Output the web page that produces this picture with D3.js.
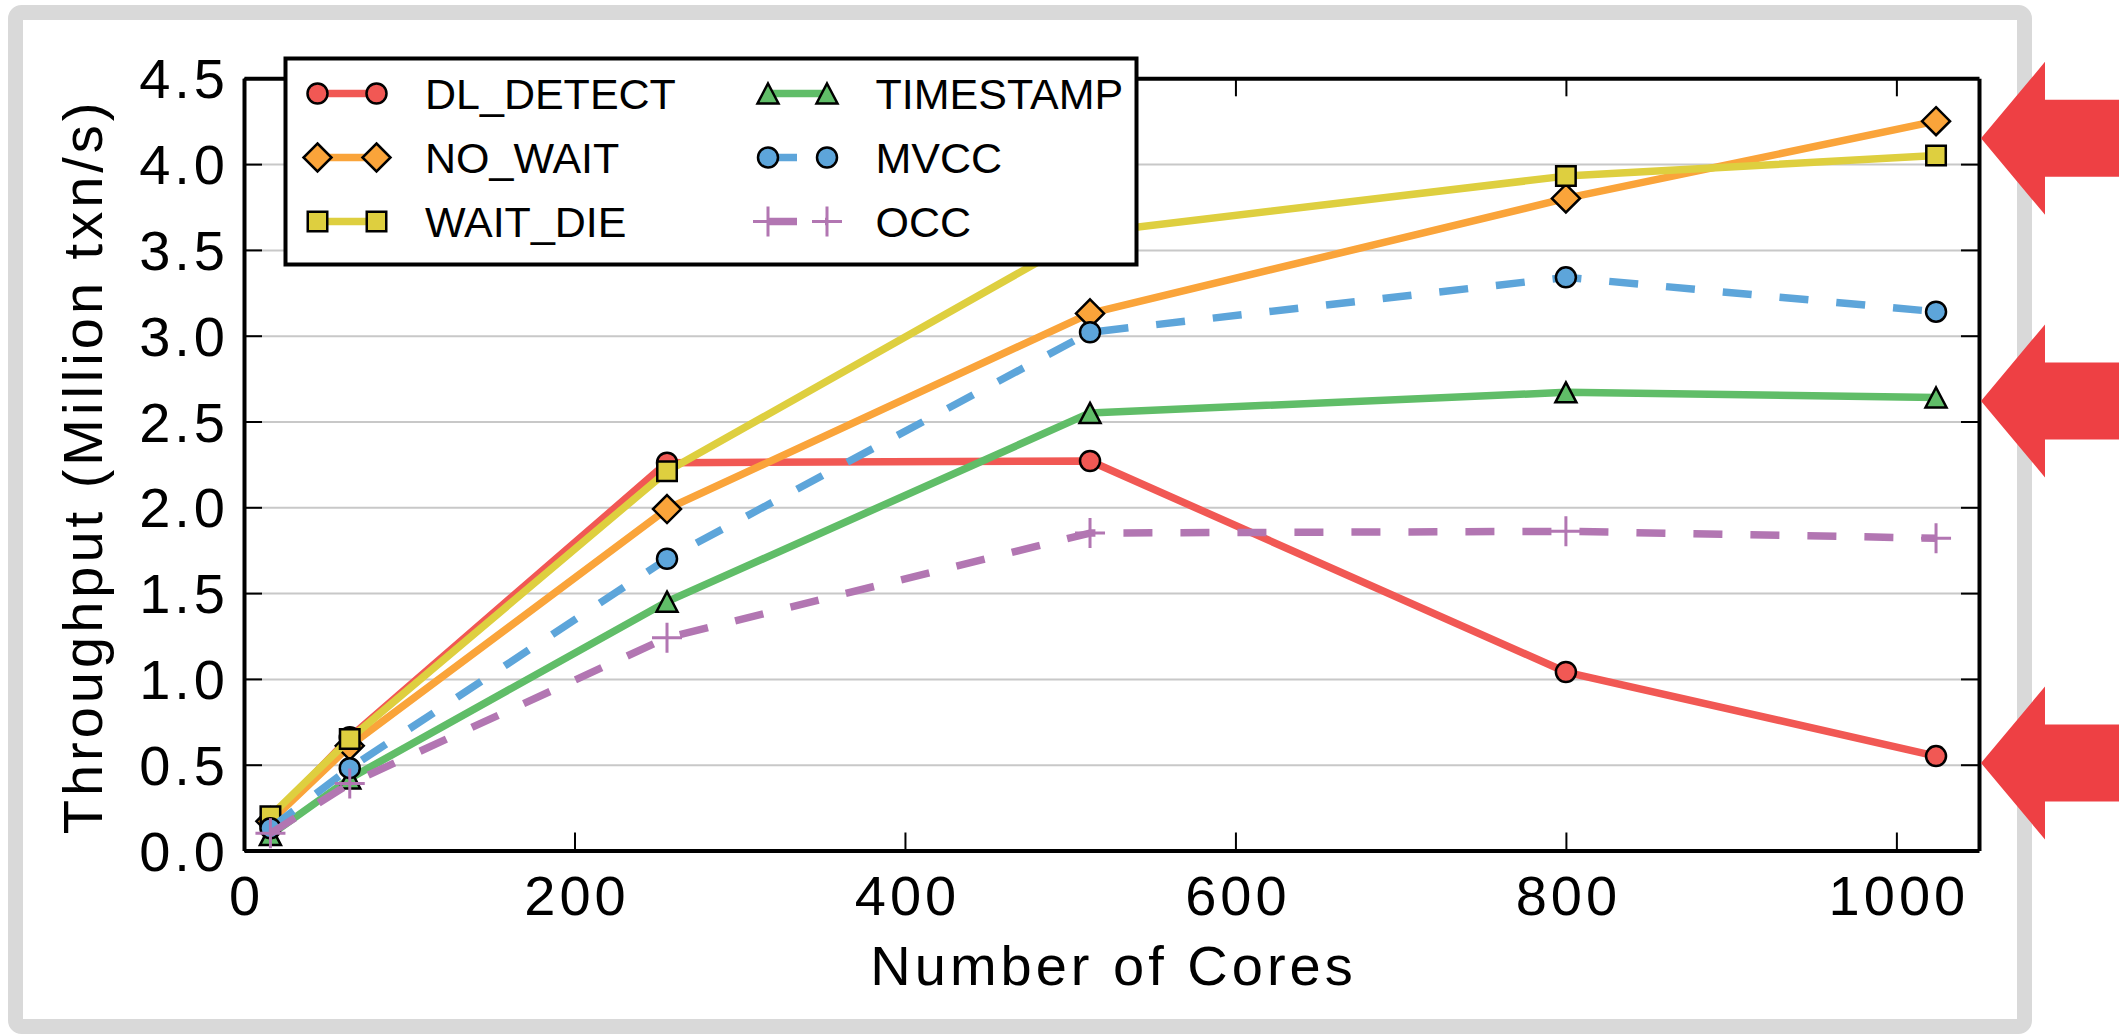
<!DOCTYPE html>
<html>
<head>
<meta charset="utf-8">
<script src="https://cdn.jsdelivr.net/npm/d3@7"></script>
<style>
    html, body { margin: 0; padding: 0; background: #fff; }
    svg { display: block; }
</style>
</head>
<body>
<div id="chart"></div>
<script>
'use strict'

// x values (number of cores)
const cores = [16, 64, 256, 512, 800, 1024]

// throughput per scheme, million txn/s
const dlDetect = [0.18, 0.66, 2.26, 2.27, 1.04, 0.55]
const noWait = [0.17, 0.61, 1.99, 3.13, 3.80, 4.25]
const waitDie = [0.20, 0.65, 2.21, 3.60, 3.93, 4.05]
const timestamp = [0.09, 0.42, 1.45, 2.55, 2.67, 2.64]
const mvcc = [0.13, 0.48, 1.70, 3.02, 3.34, 3.14]
const occ = [0.10, 0.39, 1.24, 1.85, 1.86, 1.82]

const seriesNames = ['DL_DETECT', 'NO_WAIT', 'WAIT_DIE', 'TIMESTAMP', 'MVCC', 'OCC']
const xTicks = [0, 200, 400, 600, 800, 1000]
const yTicks = [0, 0.5, 1, 1.5, 2, 2.5, 3, 3.5, 4, 4.5]

// levels the red arrows point at
const arrowLevels = [4.15, 2.62, 0.51]

let chart = ((selector = '#chart') => {

    ////////////////////////////////////
    //////////// svg setup /////////////
    ////////////////////////////////////

    const svgWidth = 2119
    const svgHeight = 1034

    // plot area in pixels
    const plot = { left: 244, right: 1979, top: 78.3, bottom: 850.5 }

    const body = d3.select(selector)
    body.html("")

    const svg = body.append('svg')
        .attr('width', svgWidth)
        .attr('height', svgHeight)
        .attr('viewBox', `0 0 ${svgWidth} ${svgHeight}`)

    const font = '"Liberation Sans", Arial, Helvetica, sans-serif'

    // grey rounded frame around the figure
    svg.append('rect')
        .attr('x', 15.5).attr('y', 12.5)
        .attr('width', 2009).attr('height', 1014)
        .attr('rx', 6)
        .attr('fill', '#fff')
        .attr('stroke', '#d9d9d9')
        .attr('stroke-width', 15)

    ////////////////////////////////////
    ////////////// scales //////////////
    ////////////////////////////////////

    const x = d3.scaleLinear().domain([0, 1050]).range([plot.left, plot.right])
    const y = d3.scaleLinear().domain([0, 4.5]).range([plot.bottom, plot.top])

    const styles = {
        DL_DETECT: { color: '#F15854', marker: 'circle', dashed: false },
        NO_WAIT: { color: '#FAA43A', marker: 'diamond', dashed: false },
        WAIT_DIE: { color: '#DECF3F', marker: 'square', dashed: false },
        TIMESTAMP: { color: '#60BD68', marker: 'triangle', dashed: false },
        MVCC: { color: '#5DA5DA', marker: 'circle', dashed: true },
        OCC: { color: '#B276B2', marker: 'plus', dashed: true }
    }

    const seriesValues = [dlDetect, noWait, waitDie, timestamp, mvcc, occ]
    const series = seriesNames.map((name, i) => ({
        name: name,
        values: cores.map((c, j) => ({ x: c, y: seriesValues[i][j] })),
        ...styles[name]
    }))

    const markerPath = {
        circle: d3.symbol(d3.symbolCircle, Math.PI * 10 * 10)(),
        square: d3.symbol(d3.symbolSquare, 19.5 * 19.5)(),
        diamond: 'M0,-14L14,0L0,14L-14,0Z',
        triangle: 'M0,-10L10.5,10L-10.5,10Z',
        plus: 'M-15,0H15M0,-15V15'
    }

    const lineWidth = 7.5
    const dash = '29,28'

    ////////////////////////////////////
    ////////////// grid ////////////////
    ////////////////////////////////////

    svg.append('g')
        .attr('transform', `translate(${plot.left},0)`)
        .call(d3.axisLeft(y).tickValues(yTicks).tickSize(-(plot.right - plot.left)).tickFormat(''))
        .call(g => g.select('.domain').remove())
        .call(g => g.selectAll('line').attr('stroke', '#c8c8c8').attr('stroke-width', 2))

    ////////////////////////////////////
    ////////////// lines ///////////////
    ////////////////////////////////////

    const line = d3.line().x(d => x(d.x)).y(d => y(d.y))

    const drawMarker = (sel, s) => sel
        .attr('d', markerPath[s.marker])
        .attr('fill', s.marker === 'plus' ? 'none' : s.color)
        .attr('stroke', s.marker === 'plus' ? s.color : '#000')
        .attr('stroke-width', s.marker === 'plus' ? 3 : 2.5)

    series.forEach(s => {
        const g = svg.append('g')
        g.append('path')
            .datum(s.values)
            .attr('d', line)
            .attr('fill', 'none')
            .attr('stroke', s.color)
            .attr('stroke-width', lineWidth)
            .attr('stroke-linejoin', 'round')
            .attr('stroke-dasharray', s.dashed ? dash : null)
        g.selectAll('.mark')
            .data(s.values)
            .join('path')
            .attr('class', 'mark')
            .attr('transform', d => `translate(${x(d.x)},${y(d.y)})`)
            .call(drawMarker, s)
    })

    ////////////////////////////////////
    ////////////// axes ////////////////
    ////////////////////////////////////

    const styleAxis = g => {
        g.select('.domain').attr('stroke', '#000').attr('stroke-width', 4)
        g.selectAll('.tick line').attr('stroke', '#000').attr('stroke-width', 2)
        g.selectAll('text')
            .attr('fill', '#000')
            .style('font-family', font)
            .style('font-size', '56px')
            .style('letter-spacing', '4px')
    }

    svg.append('g')
        .attr('transform', `translate(0,${plot.bottom})`)
        .call(d3.axisBottom(x).tickValues(xTicks).tickSizeInner(-18).tickSizeOuter(0).tickPadding(25).tickFormat(d3.format('d')))
        .call(styleAxis)
        .call(g => g.selectAll('text').attr('dx', '2px'))

    svg.append('g')
        .attr('transform', `translate(0,${plot.top})`)
        .call(d3.axisTop(x).tickValues(xTicks).tickSizeInner(-18).tickSizeOuter(0).tickFormat(''))
        .call(styleAxis)

    svg.append('g')
        .attr('transform', `translate(${plot.left},0)`)
        .call(d3.axisLeft(y).tickValues(yTicks).tickSizeInner(-18).tickSizeOuter(0).tickPadding(15).tickFormat(d3.format('.1f')))
        .call(styleAxis)
        .call(g => g.selectAll('text').attr('dy', '0.35em'))

    svg.append('g')
        .attr('transform', `translate(${plot.right},0)`)
        .call(d3.axisRight(y).tickValues(yTicks).tickSizeInner(-18).tickSizeOuter(0).tickFormat(''))
        .call(styleAxis)

    // axis titles
    svg.append('text')
        .attr('x', (plot.left + plot.right) / 2 + 2)
        .attr('y', 985)
        .attr('text-anchor', 'middle')
        .style('font-family', font)
        .style('font-size', '56px')
        .style('letter-spacing', '4px')
        .text('Number of Cores')

    svg.append('text')
        .attr('transform', `translate(101.5,${(plot.top + plot.bottom) / 2 + 2}) rotate(-90)`)
        .attr('text-anchor', 'middle')
        .style('font-family', font)
        .style('font-size', '56px')
        .style('letter-spacing', '4px')
        .text('Throughput (Million txn/s)')

    ////////////////////////////////////
    ///////////// legend ///////////////
    ////////////////////////////////////

    const legend = svg.append('g').attr('transform', 'translate(285.5,58.5)')

    legend.append('rect')
        .attr('width', 851)
        .attr('height', 206)
        .attr('fill', '#fff')
        .attr('stroke', '#000')
        .attr('stroke-width', 4)

    const colX = [32, 482.5]
    const handleLen = 59

    series.forEach((s, i) => {
        const col = Math.floor(i / 3)
        const row = i % 3
        const item = legend.append('g')
            .attr('transform', `translate(${colX[col]},${35 + row * 64})`)

        item.append('line')
            .attr('x1', 0).attr('x2', handleLen)
            .attr('stroke', s.color)
            .attr('stroke-width', lineWidth)
            .attr('stroke-dasharray', s.dashed ? dash : null)

        item.selectAll('.mark')
            .data([0, handleLen])
            .join('path')
            .attr('class', 'mark')
            .attr('transform', d => `translate(${d},0)`)
            .call(drawMarker, s)

        item.append('text')
            .attr('x', 107.5)
            .attr('y', 15.5)
            .style('font-family', font)
            .style('font-size', '43px')
            .text(s.name)
    })

    ////////////////////////////////////
    ///////////// arrows ///////////////
    ////////////////////////////////////

    const arrow = d => {
        const t = y(d)
        return `M1981,${t}L2045,${t - 76.5}L2045,${t - 38.5}L2119,${t - 38.5}` +
            `L2119,${t + 38.5}L2045,${t + 38.5}L2045,${t + 76.5}Z`
    }

    svg.append('g')
        .selectAll('path')
        .data(arrowLevels)
        .join('path')
        .attr('d', arrow)
        .attr('fill', '#EE4044')

})

chart()
</script>
</body>
</html>
